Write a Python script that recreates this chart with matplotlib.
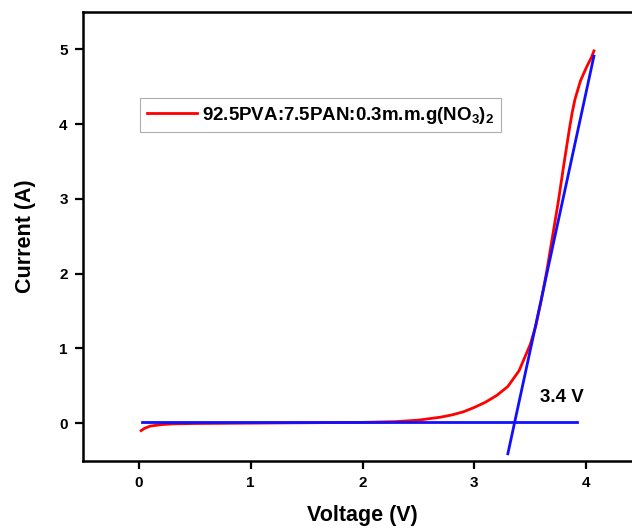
import matplotlib
matplotlib.use("Agg")
import matplotlib.pyplot as plt
import numpy as np

plt.rcParams['font.family'] = ['Liberation Sans', 'DejaVu Sans']
plt.rcParams['font.weight'] = 'bold'
plt.rcParams['mathtext.fontset'] = 'custom'
plt.rcParams['mathtext.rm'] = 'Liberation Sans:bold'
plt.rcParams['mathtext.bf'] = 'Liberation Sans:bold'
plt.rcParams['mathtext.default'] = 'bf'

# measured I-V curve
voltage = [0.02, 0.05, 0.1, 0.2, 0.3, 0.5, 1.0, 1.5, 2.0, 2.3, 2.5, 2.7, 2.8, 2.9,
           3.0, 3.1, 3.2, 3.3, 3.4, 3.5, 3.55, 3.6, 3.65, 3.7, 3.75, 3.8, 3.85,
           3.875, 3.9, 3.95, 4.0, 4.05, 4.07]
current = [-0.10, -0.07, -0.04, -0.02, -0.01, -0.005, 0.0, 0.005, 0.01, 0.02, 0.04,
           0.08, 0.11, 0.15, 0.21, 0.28, 0.37, 0.49, 0.70, 1.05, 1.30, 1.65, 2.05,
           2.50, 2.95, 3.45, 3.93, 4.15, 4.33, 4.58, 4.75, 4.90, 4.98]

# fitted lines
base_x = [0.03, 3.92]
base_y = [0.01, 0.01]
tangent_x = [3.30, 4.07]
tangent_y = [-0.41, 4.91]

label = r'92.5PVA:7.5PAN:0.3m.m.g(NO$_3$)$_2$'

fig = plt.figure(figsize=(6.32, 5.28), dpi=100)
ax = fig.add_axes([83 / 632, 1 - 460.5 / 528, 559 / 632, 448.5 / 528])

ax.plot(voltage, current, color='#ff0000', linewidth=2.0, label=label)
ax.plot(base_x, base_y, color='#1010ff', linewidth=2.0)
ax.plot(tangent_x, tangent_y, color='#1010ff', linewidth=2.0)

ax.text(3.59, 0.34, '3.4 V', fontsize=13.5, fontweight='bold', va='center')

ax.set_xlim(-0.5, 4.5)
ax.set_ylim(-0.5, 5.5)
ax.set_xticks([0, 1, 2, 3, 4])
ax.set_yticks([0, 1, 2, 3, 4, 5])
ax.tick_params(direction='out', length=6, width=1.6, labelsize=11, pad=5)
for lab in ax.get_xticklabels() + ax.get_yticklabels():
    lab.set_fontweight('bold')
for sp in ax.spines.values():
    sp.set_linewidth(1.8)

ax.set_xlabel('Voltage (V)', fontsize=15.5, fontweight='bold', labelpad=11)
ax.set_ylabel('Current (A)', fontsize=15.5, fontweight='bold', labelpad=17)

leg = ax.legend(loc='upper left', bbox_to_anchor=(0.102, 0.808), borderaxespad=0,
                fancybox=False, edgecolor='#999999', fontsize=13.5, handlelength=2.7,
                handletextpad=0.25, borderpad=0.35)
leg.get_frame().set_linewidth(0.8)

fig.savefig('out.png', dpi=100)
